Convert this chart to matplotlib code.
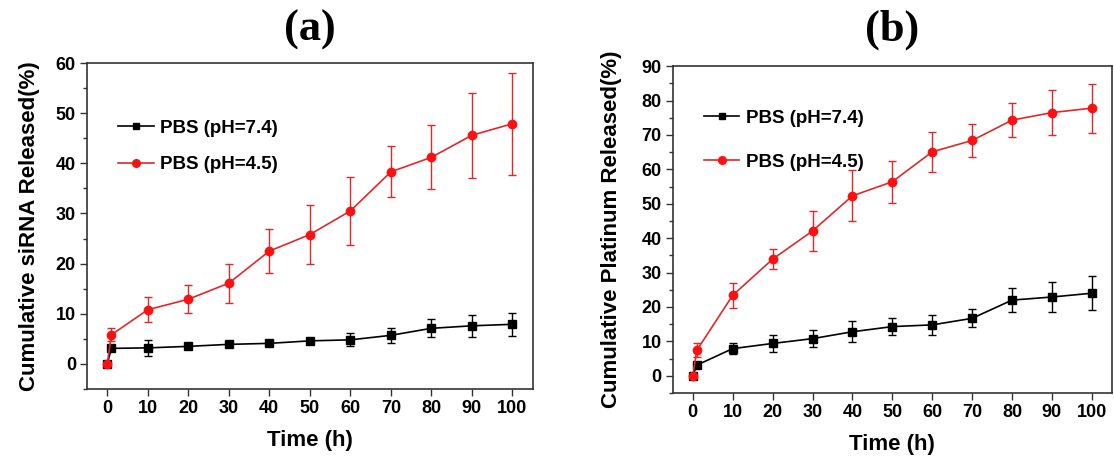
import numpy as np
import matplotlib
matplotlib.use("Agg")
import matplotlib.pyplot as plt
from matplotlib.lines import Line2D
from matplotlib.ticker import MultipleLocator

# =========================
# DATA
# =========================
time_h = [0, 1, 10, 20, 30, 40, 50, 60, 70, 80, 90, 100]

# (a) siRNA release
sirna_ph74 = [0, 3.1, 3.2, 3.5, 3.9, 4.1, 4.6, 4.8, 5.7, 7.1, 7.6, 7.9]
sirna_ph74_err = [0, 0.3, 1.65, 0.3, 0.3, 0.3, 0.4, 1.3, 1.5, 1.8, 2.2, 2.25]
sirna_ph45 = [0, 5.8, 10.8, 12.9, 16.1, 22.5, 25.8, 30.5, 38.3, 41.2, 45.6, 47.9]
sirna_ph45_err = [0, 1.3, 2.5, 2.75, 3.9, 4.4, 5.9, 6.7, 5.1, 6.4, 8.5, 10.2]

# (b) platinum release
pt_ph74 = [0, 3.1, 7.9, 9.4, 10.8, 12.8, 14.3, 14.8, 16.7, 22.0, 22.9, 24.0]
pt_ph74_err = [0, 0.6, 1.6, 2.4, 2.4, 3.1, 2.4, 2.9, 2.65, 3.4, 4.4, 4.9]
pt_ph45 = [0, 7.4, 23.4, 33.9, 42.1, 52.3, 56.4, 65.1, 68.4, 74.3, 76.5, 77.8]
pt_ph45_err = [0, 2.0, 3.7, 3.0, 5.8, 7.4, 6.1, 5.8, 4.7, 4.9, 6.6, 7.1]

labels = ["PBS (pH=7.4)", "PBS (pH=4.5)"]

SANS = "Liberation Sans"
SERIF = "Liberation Serif"
RED = "#ff1010"
RED_LINE = "#dc2a2a"
SPINE = "#333333"

fig = plt.figure(figsize=(11.14, 4.61), dpi=100)
ax_a = fig.add_axes([0.0781, 0.1562, 0.400, 0.707])
ax_b = fig.add_axes([0.604, 0.1475, 0.394, 0.709])


def draw_panel(ax, y74, e74, y45, e45, ylim, ylabel, title, label_x,
               leg_anchor, leg_spacing):
    ax.errorbar(time_h, y74, yerr=e74, color="black", lw=1.2, marker="s",
                ms=5.3, capsize=3.2, elinewidth=1.0, capthick=1.0)
    ax.errorbar(time_h, y45, yerr=e45, color=RED_LINE, lw=1.2, marker="o",
                ms=6.0, mfc=RED, mec=RED, ecolor=RED_LINE, capsize=3.2,
                elinewidth=1.0, capthick=1.0)

    ax.set_xlim(-5, 105)
    ax.set_ylim(*ylim)
    ax.set_xticks(range(0, 101, 10))
    ax.yaxis.set_major_locator(MultipleLocator(10))
    ax.yaxis.set_minor_locator(MultipleLocator(5))
    ax.tick_params(axis="both", which="major", direction="out", length=5,
                   width=1.0, color=SPINE, labelsize=13, pad=3)
    ax.tick_params(axis="y", which="minor", direction="out", length=3,
                   width=1.0, color=SPINE)
    for lbl in ax.get_xticklabels() + ax.get_yticklabels():
        lbl.set_fontfamily(SANS)
        lbl.set_fontweight("bold")
    for sp in ax.spines.values():
        sp.set_color(SPINE)
        sp.set_linewidth(1.2)

    ax.set_xlabel("Time (h)", fontfamily=SANS, fontweight="bold", fontsize=16,
                  labelpad=9)
    ax.set_ylabel(ylabel, fontfamily=SANS, fontweight="bold", fontsize=16)
    ax.yaxis.set_label_coords(label_x, 0.5)

    pos = ax.get_position()
    fig.text((pos.x0 + pos.x1) / 2, 0.935, title, ha="center", va="center",
             fontfamily=SERIF, fontweight="bold", fontsize=32)

    handles = [
        Line2D([], [], color="black", lw=1.2, marker="s", ms=4.5),
        Line2D([], [], color=RED_LINE, lw=1.2, marker="o", ms=5.5,
               mfc=RED, mec=RED),
    ]
    ax.legend(handles, labels, loc="upper left", bbox_to_anchor=leg_anchor,
              frameon=False, handlelength=1.9, handletextpad=0.35,
              labelspacing=leg_spacing, borderaxespad=0,
              prop={"family": SANS, "weight": "bold", "size": 13.5})


draw_panel(ax_a, sirna_ph74, sirna_ph74_err, sirna_ph45, sirna_ph45_err,
           (-5, 60), "Cumulative siRNA Released(%)", "(a)", -0.105,
           (0.053, 0.85), 1.05)
draw_panel(ax_b, pt_ph74, pt_ph74_err, pt_ph45, pt_ph45_err,
           (-5, 90), "Cumulative Platinum Released(%)", "(b)", -0.115,
           (0.0535, 0.89), 1.45)

fig.savefig("out.png", dpi=100)
